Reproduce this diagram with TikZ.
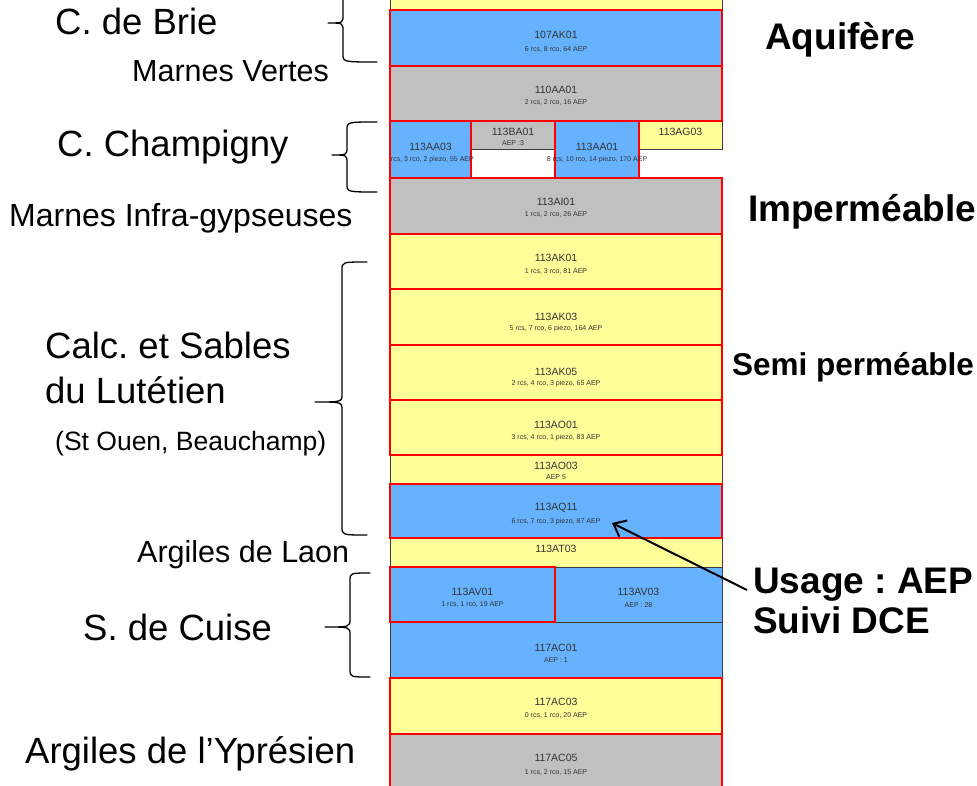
\documentclass[tikz,border=0pt]{standalone}
\usepackage{fontspec}
\setmainfont{Liberation Sans}
\usetikzlibrary{arrows.meta}
\definecolor{cblue}{RGB}{102,178,255}
\definecolor{cgray}{RGB}{192,192,192}
\definecolor{cyel}{RGB}{255,255,153}
\definecolor{cred}{RGB}{255,0,0}
\definecolor{cdark}{RGB}{60,60,70}
\frenchspacing
\begin{document}
\begin{tikzpicture}[x=1pt,y=-1pt,
  redbox/.style={draw=cred,line width=2.4pt},
  darkbox/.style={draw=cdark,line width=0.8pt},
  maintxt/.style={inner sep=0pt,font=\fontsize{10.5}{11}\selectfont,text=black!80},
  subtxt/.style={inner sep=0pt,font=\fontsize{7}{8}\selectfont,text=black!80},
  biglab/.style={inner sep=0pt,anchor=base west,font=\fontsize{36.5}{40}\selectfont},
  midlab/.style={inner sep=0pt,anchor=base west,font=\fontsize{30.5}{34}\selectfont},
  rlab/.style={inner sep=0pt,anchor=base west,font=\bfseries\fontsize{37}{40}\selectfont},
  bracel/.style={line width=1.3pt,line cap=round,line join=round}]
\useasboundingbox (0,0) rectangle (977,786);
\fill[white] (0,0) rectangle (977,786);
\begin{scope}
\clip (0,0) rectangle (977,786);
% ---- dark-bordered cells
\path[darkbox,fill=cyel] (390,-10) rectangle (722,10);
\path[darkbox,fill=cgray] (471,121) rectangle (555,149);
\path[darkbox,fill=cyel] (639,121) rectangle (722,149);
\path[darkbox,fill=cyel] (390,455) rectangle (722,484);
\path[darkbox,fill=cyel] (390,538) rectangle (722,567);
\path[darkbox,fill=cblue] (555,567) rectangle (722,622);
\path[darkbox,fill=cblue] (390,622) rectangle (722,678);
% ---- red-bordered cells
\path[redbox,fill=cblue] (390,10) rectangle (722,66);
\path[redbox,fill=cgray] (390,66) rectangle (722,121);
\path[redbox,fill=cblue] (390,121) rectangle (471,178);
\path[redbox,fill=cblue] (555,121) rectangle (639,178);
\path[redbox,fill=cgray] (390,178) rectangle (722,234);
\path[redbox,fill=cyel] (390,234) rectangle (722,289);
\path[redbox,fill=cyel] (390,289) rectangle (722,345);
\path[redbox,fill=cyel] (390,345) rectangle (722,400);
\path[redbox,fill=cyel] (390,400) rectangle (722,455);
\path[redbox,fill=cblue] (390,484) rectangle (722,538);
\path[redbox,fill=cblue] (390,567) rectangle (555,622);
\path[redbox,fill=cyel] (390,678) rectangle (722,734);
\path[redbox,fill=cgray] (390,734) rectangle (722,790);
% ---- cell texts
\node[maintxt] (m107) at (556,35) {107AK01};
\node[subtxt] (s107) at (556,50) {6 rcs, 8 rco, 64 AEP};
\node[maintxt] (m110) at (556,90) {110AA01};
\node[subtxt] (s110) at (556,103) {2 rcs, 2 rco, 16 AEP};
\node[maintxt] (mAA3) at (430.5,147) {113AA03};
\begin{scope}
\clip (390,150) rectangle (500,170);
\node[subtxt,anchor=east] (sAA3) at (474,160) {rcs, 3 rco, 2 piezo, 55 AEP};
\end{scope}
\node[maintxt] (mBA1) at (513,132) {113BA01};
\node[subtxt] (sBA1) at (513,143) {AEP :3};
\node[maintxt] (mAA1) at (597,147) {113AA01};
\node[subtxt] (sAA1) at (597,160) {8 rcs, 10 rco, 14 piezo, 170 AEP};
\node[maintxt] (mAG3) at (680.5,132) {113AG03};
\node[maintxt] (mAI1) at (556,202) {113AI01};
\node[subtxt] (sAI1) at (556,215) {1 rcs, 2 rco, 26 AEP};
\node[maintxt] (mAK1) at (556,258) {113AK01};
\node[subtxt] (sAK1) at (556,272) {1 rcs, 3 rco, 81 AEP};
\node[maintxt] (mAK3) at (556,317) {113AK03};
\node[subtxt] (sAK3) at (556,329) {5 rcs, 7 rco, 6 piezo, 164 AEP};
\node[maintxt] (mAK5) at (556,372) {113AK05};
\node[subtxt] (sAK5) at (556,384) {2 rcs, 4 rco, 3 piezo, 65 AEP};
\node[maintxt] (mAO1) at (556,425) {113AO01};
\node[subtxt] (sAO1) at (556,438) {3 rcs, 4 rco, 1 piezo, 83 AEP};
\node[maintxt] (mAO3) at (556,466) {113AO03};
\node[subtxt] (sAO3) at (556,477) {AEP 5};
\node[maintxt] (mAQ11) at (556,508) {113AQ11};
\node[subtxt] (sAQ11) at (556,522) {6 rcs, 7 rco, 3 piezo, 87 AEP};
\node[maintxt] (mAT3) at (556,549) {113AT03};
\node[maintxt] (mAV1) at (472.5,592) {113AV01};
\node[subtxt] (sAV1) at (472.5,605) {1 rcs, 1 rco, 19 AEP};
\node[maintxt] (mAV3) at (638.5,592) {113AV03};
\node[subtxt] (sAV3) at (638.5,605) {AEP : 28};
\node[maintxt] (mC1) at (556,648) {117AC01};
\node[subtxt] (sC1) at (556,660) {AEP : 1};
\node[maintxt] (mC3) at (556,702) {117AC03};
\node[subtxt] (sC3) at (556,715) {0 rcs, 1 rco, 20 AEP};
\node[maintxt] (mC5) at (556,758) {117AC05};
\node[subtxt] (sC5) at (556,772) {1 rcs, 2 rco, 15 AEP};
% ---- braces
\draw[bracel] (377,-16) .. controls (343,-16) .. (343,-8) -- (343,15) .. controls (343,23) .. (328,23)
  .. controls (343,23) .. (343,31) -- (343,54) .. controls (343,62) .. (377,62);
\draw[bracel] (377,122) .. controls (347,122) .. (347,130) -- (347,147) .. controls (347,155) .. (332,155)
  .. controls (347,155) .. (347,163) -- (347,184) .. controls (347,192) .. (377,192);
\draw[bracel] (367,262) .. controls (342,262) .. (342,270) -- (342,394) .. controls (342,402) .. (315,402)
  .. controls (342,402) .. (342,410) -- (342,527) .. controls (342,535) .. (367,535);
\draw[bracel] (370,573) .. controls (350,573) .. (350,581) -- (350,619) .. controls (350,627) .. (325,627)
  .. controls (350,627) .. (350,635) -- (350,669) .. controls (350,677) .. (370,677);
\end{scope}
% ---- left labels
\node[biglab] (brie) at (55,35) {C. de Brie};
\node[midlab] (mv) at (132,82) {Marnes Vertes};
\node[biglab] (champ) at (57,157) {C. Champigny};
\node[midlab,font=\fontsize{32}{35}\selectfont] (mig) at (9,227) {Marnes Infra-gypseuses};
\node[biglab] (calc1) at (45,358) {Calc. et Sables};
\node[biglab] (calc2) at (45,403) {du Lutétien};
\node[inner sep=0pt,anchor=base west,font=\fontsize{26.5}{29}\selectfont] (stouen) at (55,450) {(St Ouen, Beauchamp)};
\node[midlab] (laon) at (137,562) {Argiles de Laon};
\node[biglab] (cuise) at (83,640) {S. de Cuise};
\node[biglab] (ypres) at (25,763) {Argiles de l’Yprésien};
% ---- right labels
\node[rlab] (aqui) at (765,50) {Aquifère};
\node[rlab] (imper) at (748,222) {Imperméable};
\node[rlab,font=\bfseries\fontsize{31.5}{34}\selectfont] (semi) at (732,375) {Semi perméable};
\node[rlab] (usage) at (753,593) {Usage : AEP};
\node[rlab] (suivi) at (753,633) {Suivi DCE};
% ---- arrow
\coordinate (arrS) at (747,590);
\coordinate (arrE) at (612,523);
\draw[line width=2pt,-{Straight Barb[length=11pt,width=18pt,line width=2pt]}] (arrS) -- (arrE);
\end{tikzpicture}
\end{document}
